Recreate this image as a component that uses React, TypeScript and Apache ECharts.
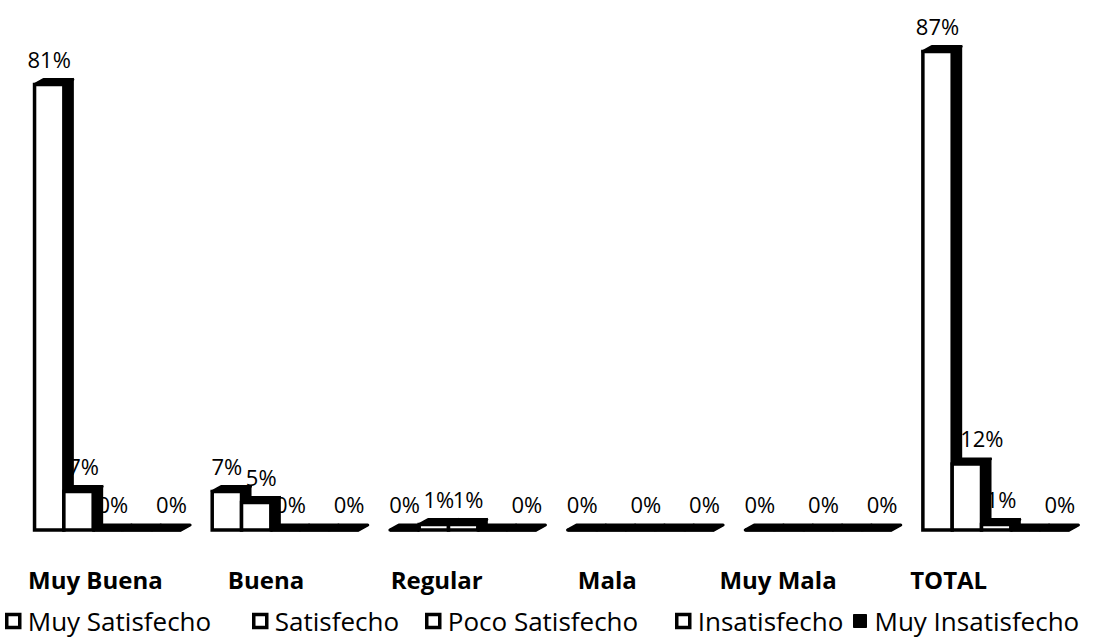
import React, { useEffect, useRef } from "react";
import * as echarts from "echarts";

const categories = ["Muy Buena", "Buena", "Regular", "Mala", "Muy Mala", "TOTAL"];
const seriesNames = ["Muy Satisfecho", "Satisfecho", "Poco Satisfecho", "Insatisfecho", "Muy Insatisfecho"];
const muySatisfecho = [81, 7, 0, 0, 0, 87];
const satisfecho = [7, 5, 1, 0, 0, 12];
const pocoSatisfecho = [0, 0, 1, 0, 0, 1];
const insatisfecho = [0, 0, 0, 0, 0, 0];
const muyInsatisfecho = [0, 0, 0, 0, 0, 0];
const seriesValues = [muySatisfecho, satisfecho, pocoSatisfecho, insatisfecho, muyInsatisfecho];
// data labels absent in the reference: [seriesIndex, categoryIndex]
const hiddenLabels = [
  [3, 0], [3, 1], [3, 2], [1, 3], [3, 3], [1, 4], [3, 4], [3, 5],
];

const FONT = '"Open Sans", "DejaVu Sans", sans-serif';
const legendLefts = [5, 252, 425, 675, 853];

const isHidden = (si: number, ci: number) =>
  hiddenLabels.some(([s, c]) => s === si && c === ci);

const makeRender = (si: number) => (params: any, api: any) => {
  const ci = api.value(0);
  const v = api.value(1);
  const base = api.coord([ci, 0]);
  const top = api.coord([ci, v]);
  const band = api.size([1, 0])[0];
  const step = band * 0.165;
  const groupW = step * 5;
  const x0 = base[0] - groupW / 2 + si * step;
  const w = step;
  const dx = 9;
  const dy = -5;
  const yb = base[1];
  const yt = top[1];
  const children: any[] = [
    {
      type: "polygon",
      shape: { points: [[x0 + w, yt], [x0 + w + dx, yt + dy], [x0 + w + dx, yb + dy], [x0 + w, yb]] },
      style: { fill: "#000", stroke: "#000", lineWidth: 2 },
    },
    {
      type: "polygon",
      shape: { points: [[x0, yt], [x0 + dx, yt + dy], [x0 + w + dx, yt + dy], [x0 + w, yt]] },
      style: { fill: "#000", stroke: "#000", lineWidth: 3, lineJoin: "round" },
    },
    {
      type: "rect",
      shape: { x: x0, y: yt, width: w, height: yb - yt },
      style: { fill: "#fff", stroke: "#000", lineWidth: 3.5 },
    },
  ];
  if (!isHidden(si, ci)) {
    const shift = si === 0 ? 0 : 5 + (v >= 10 ? 10 : 0);
    children.push({
      type: "text",
      z2: 10,
      style: {
        text: v + "%",
        x: x0 + w / 2 + shift,
        y: yt - 26,
        align: "center",
        verticalAlign: "middle",
        font: `22px ${FONT}`,
        fill: "#000",
      },
    });
  }
  return { type: "group", children };
};

export default function App() {
  const ref = useRef<HTMLDivElement>(null);
  useEffect(() => {
    if (!ref.current) return;
    const chart = echarts.init(ref.current, undefined, { renderer: "svg" });
    chart.setOption({
      animation: false,
      backgroundColor: "#fff",
      grid: [
        { left: 19, right: 28, top: 35, bottom: 113 },
        { left: 10, width: 1024, top: 560, height: 1 },
      ],
      xAxis: [
        { gridIndex: 0, type: "category", data: categories, show: false },
        {
          gridIndex: 1,
          type: "category",
          data: categories,
          axisLine: { show: false },
          axisTick: { show: false },
          axisLabel: {
            interval: 0,
            fontSize: 24,
            fontWeight: "bold",
            fontFamily: FONT,
            color: "#000",
            margin: 3,
            lineHeight: 30,
          },
        },
      ],
      yAxis: [
        { gridIndex: 0, type: "value", min: 0, max: 90, show: false },
        { gridIndex: 1, type: "value", show: false },
      ],
      legend: seriesNames.map((n, i) => ({
        data: [
          {
            name: n,
            icon: "rect",
            itemStyle:
              i === 4
                ? { color: "#000", borderColor: "#000", borderWidth: 1 }
                : { color: "#fff", borderColor: "#000", borderWidth: 3.5 },
          },
        ],
        left: legendLefts[i],
        top: 608,
        padding: 0,
        itemWidth: 13,
        itemHeight: 13,
        selectedMode: false,
        textStyle: { fontSize: 26, fontFamily: FONT, color: "#000", padding: [0, 0, 0, 3] },
      })),
      series: seriesValues.map((vals, si) => ({
        type: "custom",
        name: seriesNames[si],
        xAxisIndex: 0,
        yAxisIndex: 0,
        data: vals.map((v, ci) => [ci, v]),
        encode: { x: 0, y: 1 },
        clip: false,
        itemStyle: { color: si === 4 ? "#000" : "#fff" },
        renderItem: makeRender(si),
      })),
    });
    return () => chart.dispose();
  }, []);
  return (
    <div
      ref={ref}
      style={{ position: "absolute", left: 0, top: 0, width: 1113, height: 643, background: "#fff" }}
    />
  );
}
